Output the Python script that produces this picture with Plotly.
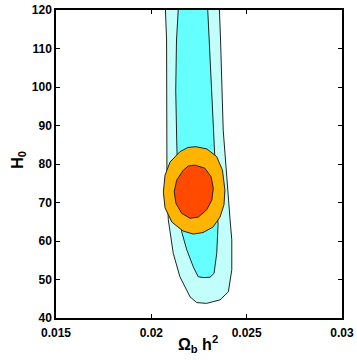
import plotly.graph_objects as go

# --- contour outlines (omega_b h^2, H0) ---
outer_x = [0.02074, 0.02074, 0.02080, 0.02081, 0.02081, 0.02082, 0.02089, 0.02115, 0.02150,
           0.02203, 0.02238, 0.02290, 0.02360, 0.02404, 0.02422, 0.02422, 0.02413, 0.02397,
           0.02377, 0.02363, 0.02356, 0.02354]
outer_y = [124.0, 120.0, 112.2, 99.2, 86.2, 73.2, 65.5, 56.8, 50.7,
           45.5, 44.0, 43.8, 44.7, 46.8, 52.5, 60.3, 65.5, 75.8,
           88.8, 112.2, 120.0, 124.0]

inner_x = [0.02143, 0.02141, 0.02132, 0.02128, 0.02133, 0.02140, 0.02159, 0.02186, 0.02220,
           0.02246, 0.02276, 0.02308, 0.02329, 0.02343, 0.02350, 0.02339, 0.02325, 0.02305,
           0.02294, 0.02292]
inner_y = [124.0, 120.0, 112.2, 99.2, 86.2, 73.2, 62.4, 57.7, 53.3,
           50.7, 50.5, 50.6, 51.6, 56.8, 64.2, 75.8, 88.8, 112.2,
           120.0, 124.0]

orange_x = [0.02234, 0.02292, 0.02343, 0.02373, 0.02386, 0.02381, 0.02360, 0.02323, 0.02271,
            0.02220, 0.02166, 0.02108, 0.02072, 0.02063, 0.02072, 0.02098, 0.02150, 0.02192]
orange_y = [84.5, 83.9, 81.9, 78.4, 73.2, 69.4, 66.2, 63.6, 62.2,
            61.8, 62.6, 64.9, 68.6, 72.7, 77.1, 80.5, 83.2, 84.3]

red_x = [0.02229, 0.02281, 0.02313, 0.02325, 0.02317, 0.02290, 0.02246, 0.02203, 0.02159,
         0.02129, 0.02120, 0.02133, 0.02168, 0.02194]
red_y = [79.7, 78.9, 76.7, 73.7, 70.6, 68.1, 66.2, 65.9, 67.2,
         69.8, 72.8, 75.8, 78.4, 79.5]

x_ticks = [0.015, 0.02, 0.025, 0.03]
x_ticktext = ["0.015", "0.02", "0.025", "0.03"]
y_ticks = [40, 50, 60, 70, 80, 90, 100, 110, 120]

FONT = "Liberation Sans, Arial, Helvetica, sans-serif"

fig = go.Figure()

for xs, ys, fill in [(outer_x, outer_y, "#C2FFFB"),
                     (inner_x, inner_y, "#66FFFF"),
                     (orange_x, orange_y, "#FFB400"),
                     (red_x, red_y, "#FF4A00")]:
    fig.add_trace(go.Scatter(
        x=xs + xs[:1], y=ys + ys[:1],
        mode="lines", fill="toself", fillcolor=fill,
        line=dict(color="#222222", width=1),
        hoverinfo="skip", showlegend=False,
    ))

axis_common = dict(
    showline=True, linecolor="black", linewidth=1.5, mirror="ticks",
    ticks="inside", ticklen=4, tickwidth=1, tickcolor="black",
    showgrid=False, zeroline=False, automargin=False,
    ticklabeloverflow="allow",
    tickfont=dict(family=FONT, size=12, color="black"),
)

fig.update_layout(
    width=357, height=360,
    margin=dict(l=56, r=15, t=10, b=42),
    paper_bgcolor="white", plot_bgcolor="white",
    xaxis=dict(
        range=[0.015, 0.03], tickvals=x_ticks,
        ticktext=[f"<b>{t}</b>" for t in x_ticktext],
        ticklabelstandoff=3,
        **axis_common,
    ),
    yaxis=dict(
        range=[40, 120], tickvals=y_ticks,
        ticktext=[f"<b>{v}</b>" for v in y_ticks],
        **axis_common,
    ),
    annotations=[
        dict(text="<b>Ω<sub>b</sub> h<sup>2</sup></b>", xref="paper", yref="paper",
             x=0.4965, y=-0.085, xanchor="center", yanchor="middle", showarrow=False,
             font=dict(family=FONT, size=16, color="black")),
        dict(text="<b>H<sub>0</sub></b>", xref="paper", yref="paper",
             x=-0.13, y=0.513, xanchor="center", yanchor="middle", showarrow=False,
             textangle=-90, font=dict(family=FONT, size=16, color="black")),
    ],
)

# drop the browser's default body margin so the figure sits at the page corner
fig.write_html("out.html", config={"displayModeBar": False},
               post_script="document.body.style.margin='0';")
